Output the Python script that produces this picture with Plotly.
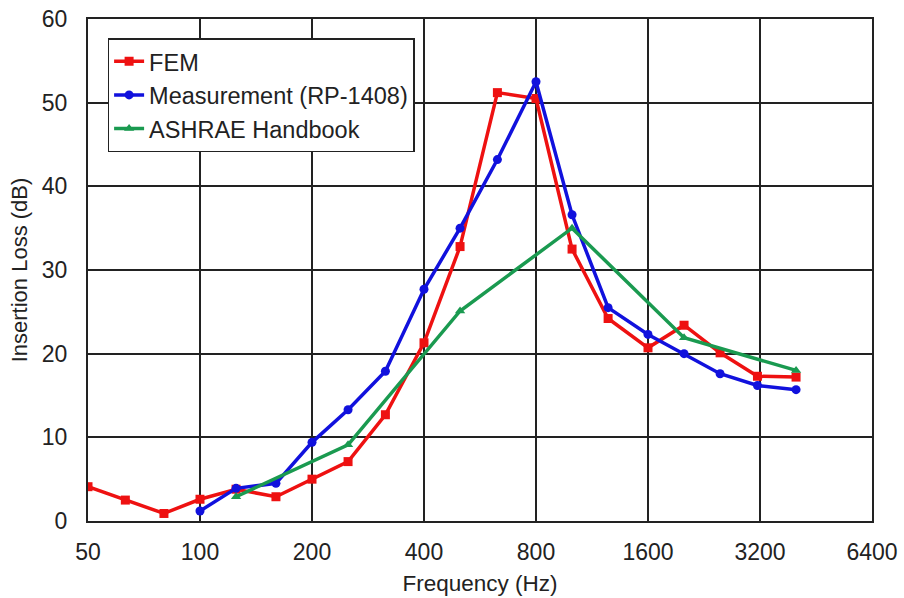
import plotly.graph_objects as go

freq_third = [50, 63, 80, 100, 125, 160, 200, 250, 315, 400, 500, 630, 800, 1000, 1250, 1600, 2000, 2500, 3150, 4000]
fem = [4.1, 2.5, 0.9, 2.6, 3.8, 2.9, 5.0, 7.1, 12.7, 21.3, 32.8, 51.2, 50.5, 32.5, 24.2, 20.7, 23.4, 20.1, 17.3, 17.2]

freq_meas = [100, 125, 160, 200, 250, 315, 400, 500, 630, 800, 1000, 1250, 1600, 2000, 2500, 3150, 4000]
meas = [1.2, 3.9, 4.5, 9.4, 13.3, 17.9, 27.7, 35.0, 43.2, 52.5, 36.6, 25.5, 22.3, 20.0, 17.6, 16.2, 15.7]

freq_oct = [125, 250, 500, 1000, 2000, 4000]
ashrae = [2.9, 9.1, 25.1, 35.0, 21.9, 18.0]

x_ticks = [50, 100, 200, 400, 800, 1600, 3200, 6400]
y_ticks = [0, 10, 20, 30, 40, 50, 60]

FONT = "Liberation Sans, Arial, sans-serif"

fig = go.Figure()
fig.add_trace(go.Scatter(x=freq_third, y=fem, name="FEM", mode="lines+markers",
                         line=dict(color="#ee1111", width=3.5),
                         marker=dict(symbol="square", size=9, color="#ee1111"),
                         legendgroup="a"))
fig.add_trace(go.Scatter(x=freq_meas, y=meas, name="Measurement (RP-1408)", mode="lines+markers",
                         line=dict(color="#1111dd", width=3.5),
                         marker=dict(symbol="circle", size=9, color="#1111dd"),
                         legendgroup="b"))
fig.add_trace(go.Scatter(x=freq_oct, y=ashrae, name="ASHRAE Handbook", mode="lines+markers",
                         line=dict(color="#1a9a50", width=3.5),
                         marker=dict(symbol="triangle-up", size=9, color="#1a9a50"),
                         legendgroup="c"))

fig.update_layout(
    width=904, height=598,
    margin=dict(l=88, r=32, t=19, b=77),
    paper_bgcolor="white", plot_bgcolor="white",
    font=dict(family=FONT, size=23, color="#222"),
    legend=dict(x=0.025, y=0.962, xanchor="left", yanchor="top",
                bordercolor="#222", borderwidth=1.5, bgcolor="white",
                font=dict(size=23.5, family=FONT), tracegroupgap=9,
                entrywidth=290, entrywidthmode="pixels",
                traceorder="normal"),
    xaxis=dict(type="log", range=[1.69897, 3.80618], tickvals=x_ticks,
               ticktext=[str(v) for v in x_ticks], automargin=False,
               showgrid=True, gridcolor="#222", gridwidth=1.5,
               showline=True, linecolor="#222", linewidth=2, mirror=True,
               ticks="", ticklabelstandoff=9, tickfont=dict(size=23),
               title=dict(text="Frequency (Hz)", font=dict(size=22.5), standoff=12),
               zeroline=False),
    yaxis=dict(range=[0, 60], tickvals=y_ticks, automargin=False,
               showgrid=True, gridcolor="#222", gridwidth=1.5,
               showline=True, linecolor="#222", linewidth=2, mirror=True,
               ticks="", ticklabelstandoff=14, tickfont=dict(size=23),
               title=dict(text="Insertion Loss (dB)", font=dict(size=22), standoff=8),
               zeroline=False),
)

fig.write_html("out.html")
